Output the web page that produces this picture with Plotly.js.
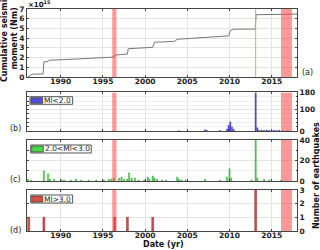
<!DOCTYPE html>
<html><head><meta charset="utf-8">
<script src="https://cdn.plot.ly/plotly-3.0.1.min.js"></script>
<style>html,body{margin:0;padding:0;background:#fff}#c{width:320px;height:250px}</style>
</head><body><div id="c"></div>
<script>
// ---- data ----
const momentYears = [1986.1,1986.5,1986.6,1987.9,1988.0,1988.5,1988.6,1992.0,1996.0,1996.3,1996.4,1997.9,1998.0,2000.9,2001.1,2002.0,2003.5,2003.8,2007.3,2009.9,2010.1,2010.5,2013.05,2013.15,2018.0];
const momentVals  = [0.0,0.25,0.28,0.30,1.55,1.58,1.72,1.85,2.01,2.05,2.25,2.36,2.91,3.05,3.57,3.58,3.67,3.88,4.05,4.23,4.78,4.92,4.93,6.41,6.48];
const momentExp = 15;

const blueYears  = [2004.0,2007.1,2007.3,2008.9,2009.7,2009.9,2010.1,2010.3,2010.5,2013.1,2013.3,2013.5,2013.8,2014.1,2014.4,2014.7,2015.0,2015.3,2015.6,2015.9,2016.3,2016.9];
const blueCounts = [2,6,4,3,10,27,43,19,8,180,16,4,5,4,5,4,3,4,3,4,2,2];

const greenYears  = [1986.1,1986.5,1988.0,1988.5,1988.7,1989.2,1990.1,1990.4,1991.2,1991.8,1992.4,1993.3,1994.2,1995.1,1995.7,1996.0,1996.3,1996.9,1997.2,1997.5,1997.9,1998.1,1998.4,1998.8,1999.2,1999.9,2000.3,2000.5,2000.9,2001.1,2001.4,2002.0,2002.5,2003.8,2004.0,2004.3,2004.8,2007.1,2008.9,2009.7,2010.0,2010.2,2012.6,2013.1,2013.3,2014.1,2014.7,2016.1];
const greenCounts = [2,1,10,7,2,2,1,1,1,2,1,1,1,1,2,2,3,3,4,2,2,8,3,3,1,1,4,2,5,3,2,1,1,4,2,1,1,2,1,4,12,3,1,40,3,2,1,1];

const redYears  = [1986.2,1988.0,1996.4,1997.9,2000.9,2013.1];
const redCounts = [1,1,1,1,1,3];

const bandStart = [1996.1, 2016.1];
const bandEnd   = [1996.6, 2017.4];
const mainshock = 2013.1;

const yearTicks = [1990,1995,2000,2005,2010,2015];
const labels = {b:'Ml<2.0', c:'2.0<Ml<3.0', d:'Ml>3.0'};

// ---- style ----
const AX = '#444', GRID = '#e4e4e4';
const tickFont = {family:'DejaVu Sans', size:7.5, color:'#222', weight:'bold'};
const traces = [
  {x:momentYears, y:momentVals, type:'scatter', mode:'lines', line:{color:'#777', width:1}, xaxis:'x', yaxis:'y', hoverinfo:'skip'},
  {x:blueYears, y:blueCounts, type:'bar', width:0.16, marker:{color:'#5050e0', line:{color:'#2a2a90', width:0.3}}, xaxis:'x2', yaxis:'y2'},
  {x:greenYears, y:greenCounts, type:'bar', width:0.16, marker:{color:'#4cd44c', line:{color:'#2a902a', width:0.3}}, xaxis:'x3', yaxis:'y3'},
  {x:redYears, y:redCounts, type:'bar', width:0.22, marker:{color:'#dd4a4a', line:{color:'#8a2020', width:0.5}}, xaxis:'x4', yaxis:'y4'}
];

function xax(showLabels, anchor){
  return {range:[1986,2018], tickvals:yearTicks, showticklabels:showLabels, anchor:anchor,
    showgrid:true, gridcolor:GRID, gridwidth:1, zeroline:false, showline:true, linecolor:AX, linewidth:1,
    mirror:'ticks', ticks:'inside', ticklen:2, tickcolor:AX, tickfont:tickFont, fixedrange:true, ticklabelstandoff:-3};
}
function yax(domain, range, tickvals, side, minorDtick, anchor){
  const a = {domain:domain, range:range, tickvals:tickvals, side:side, anchor:anchor,
    showgrid:true, gridcolor:GRID, zeroline:false, showline:true, linecolor:AX, linewidth:1,
    mirror:'ticks', ticks:'inside', ticklen:2, tickcolor:AX, tickfont:tickFont, fixedrange:true};
  if (minorDtick) a.minor = {dtick:minorDtick, showgrid:true, gridcolor:'#efefef', ticks:'inside', ticklen:1.5, tickcolor:AX};
  return a;
}
const domA=[0.694,1], domB=[0.450,0.624], domC=[0.225,0.41], domD=[0,0.185];

const shapes = [];
const yRanges = {y:7, y2:180, y3:40, y4:3};
['x','x2','x3','x4'].forEach((xr,i)=>{
  const yr = ['y','y2','y3','y4'][i];
  for (let k=0;k<bandStart.length;k++){
    shapes.push({type:'rect', xref:xr, yref:yr, x0:bandStart[k], x1:bandEnd[k], y0:0, y1:yRanges[yr],
      fillcolor:'rgba(255,70,70,0.55)', line:{width:0}, layer:'above'});
  }
});
shapes.push({type:'line', xref:'x', yref:'y', x0:mainshock, x1:mainshock, y0:0, y1:7, line:{color:'#ff9a40', width:1}, layer:'above'});

// legend boxes (b, c, d)
const leg = [
  {box:[0.011,0.169,0.5707,0.605], sw:[0.0148,0.058,0.5752,0.6005], tx:[0.0604,0.5878], col:'#5050e0', t:labels.b},
  {box:[0.0137,0.238,0.3514,0.3874], sw:[0.0174,0.0604,0.3559,0.3829], tx:[0.063,0.3694], col:'#4cd44c', t:labels.c},
  {box:[0.0137,0.169,0.1261,0.1622], sw:[0.0174,0.058,0.1306,0.1577], tx:[0.061,0.1441], col:'#dd4a4a', t:labels.d}
];
const annotations = [];
leg.forEach(L=>{
  shapes.push({type:'rect', xref:'paper', yref:'paper', x0:L.box[0], x1:L.box[1], y0:L.box[2], y1:L.box[3], fillcolor:'#fff', line:{color:'#555', width:1}, layer:'above'});
  shapes.push({type:'rect', xref:'paper', yref:'paper', x0:L.sw[0], x1:L.sw[1], y0:L.sw[2], y1:L.sw[3], fillcolor:L.col, line:{color:'#333', width:0.7}, layer:'above'});
  annotations.push({xref:'paper', yref:'paper', x:L.tx[0], y:L.tx[1], xanchor:'left', yanchor:'middle', text:L.t, showarrow:false,
    font:{family:'DejaVu Sans', size:7.5, color:'#222'}, borderpad:0});
});

const lab = {family:'DejaVu Sans', size:8, color:'#222'};
const labB = {family:'DejaVu Sans', size:8, color:'#111', weight:'bold'};
annotations.push(
  {xref:'paper', yref:'paper', x:0, y:1.0, xanchor:'left', yanchor:'bottom', text:'×10<sup>'+momentExp+'</sup>', showarrow:false, font:{family:'DejaVu Sans', size:7, color:'#111', weight:'bold'}, borderpad:0, yshift:-1},
  {xref:'paper', yref:'paper', x:1.011, y:0.716, xanchor:'left', yanchor:'middle', text:'(a)', showarrow:false, font:lab},
  {xref:'paper', yref:'paper', x:-0.0148, y:0.461, xanchor:'right', yanchor:'middle', text:'(b)', showarrow:false, font:lab},
  {xref:'paper', yref:'paper', x:-0.0148, y:0.230, xanchor:'right', yanchor:'middle', text:'(c)', showarrow:false, font:lab},
  {xref:'paper', yref:'paper', x:-0.0148, y:0.0045, xanchor:'right', yanchor:'middle', text:'(d)', showarrow:false, font:lab},
  {xref:'paper', yref:'paper', x:-0.0667, y:0.869, xanchor:'center', yanchor:'middle', textangle:-90, text:'Cumulative seismic<br>moment (Nm)', showarrow:false, font:labB},
  {xref:'paper', yref:'paper', x:1.072, y:0.25, xanchor:'center', yanchor:'middle', textangle:-90, text:'Number of earthquakes', showarrow:false, font:labB},
  {xref:'paper', yref:'paper', x:0.506, y:-0.0856, xanchor:'center', yanchor:'bottom', text:'Date (yr)', showarrow:false, font:labB, borderpad:0}
);

const layout = {
  width:320, height:250, margin:{l:27, r:23, t:9, b:19},
  paper_bgcolor:'#fff', plot_bgcolor:'#fff', showlegend:false, bargap:0,
  xaxis: xax(true,'y'),
  xaxis2: Object.assign(xax(false,'y2'), {matches:'x'}),
  xaxis3: Object.assign(xax(false,'y3'), {matches:'x'}),
  xaxis4: Object.assign(xax(true,'y4'), {matches:'x'}),
  yaxis: yax(domA,[0,7],[0,1,2,3,4,5,6,7],'left',null,'x'),
  yaxis2: yax(domB,[0,180],[0,100,180],'right',20,'x2'),
  yaxis3: yax(domC,[0,40],[0,20,40],'right',10,'x3'),
  yaxis4: yax(domD,[0,3],[0,1,2,3],'right',null,'x4'),
  shapes:shapes, annotations:annotations
};
Plotly.newPlot('c', traces, layout, {staticPlot:true, displayModeBar:false});
</script></body></html>
